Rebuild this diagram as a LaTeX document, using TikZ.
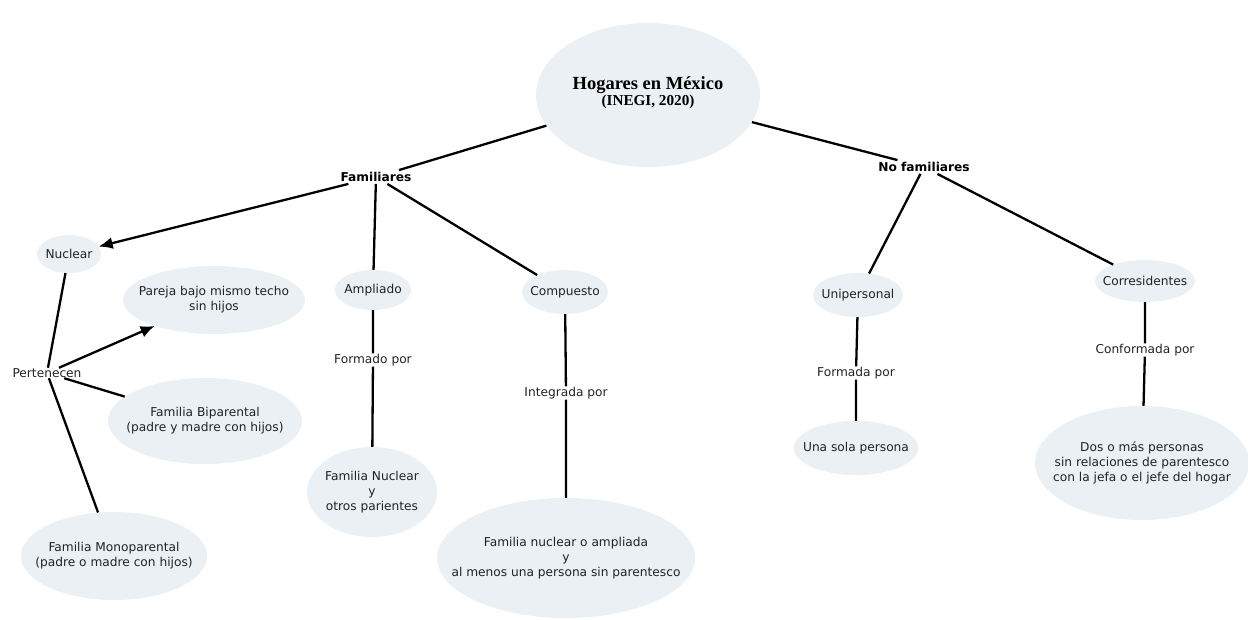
\documentclass[tikz,border=0pt]{standalone}
\usepackage{fontspec}
\setmainfont{DejaVu Sans}
\newfontfamily\tnr{Liberation Serif}
\usetikzlibrary{shapes.geometric,arrows.meta}
\definecolor{bubfill}{HTML}{EAF0F3}
\definecolor{txt}{HTML}{222222}
\tikzset{
  E/.style 2 args={ellipse, fill=bubfill, draw=none, inner sep=0pt,
    minimum width=#1pt, minimum height=#2pt},
  lt/.style={align=center, text=txt, inner sep=0pt,
    font=\fontsize{12.2}{15}\selectfont},
  lbl/.style={inner sep=0.5pt, text=txt, font=\fontsize{12.2}{15}\selectfont},
  hd/.style={inner sep=2pt, text=black, font=\bfseries\fontsize{12.2}{15}\selectfont},
  con/.style={line width=2.3pt, black},
  arr/.style={con, -{Latex[length=14pt,width=12pt]}}
}
\begin{document}
\begin{tikzpicture}[x=1pt,y=-1pt]
\useasboundingbox (0,0) rectangle (1248,619);

% ellipses
\node[E={224}{144}, label={[align=center, inner sep=0pt, yshift=2pt]center:{\tnr\bfseries\fontsize{18.5}{19}\selectfont Hogares en México\\[0pt]\tnr\bfseries\fontsize{15.2}{15}\selectfont (INEGI, 2020)}}] (tit) at (648,95) {};
\node[E={64}{38}, label={[lt]center:Nuclear}] (nuc) at (69,254) {};
\node[E={182}{68}, label={[lt]center:{Pareja bajo mismo techo\\sin hijos}}] (par) at (214,300) {};
\node[E={194}{86}, label={[lt]center:{Familia Biparental\\(padre y madre con hijos)}}] (bip) at (205,421) {};
\node[E={186}{88}, label={[lt]center:{Familia Monoparental\\(padre o madre con hijos)}}] (mono) at (114,556) {};
\node[E={76}{40}, label={[lt]center:Ampliado}] (amp) at (373,290) {};
\node[E={130}{90}, label={[lt]center:{Familia Nuclear\\y\\otros parientes}}] (fnuc) at (372,492) {};
\node[E={86}{44}, label={[lt]center:Compuesto}] (comp) at (565,292) {};
\node[E={258}{120}, label={[lt]center:{Familia nuclear o ampliada\\y\\al menos una persona sin parentesco}}] (fna) at (566,558) {};
\node[E={90}{44}, label={[lt]center:Unipersonal}] (uni) at (858,295) {};
\node[E={124}{54}, label={[lt]center:Una sola persona}] (una) at (856,448) {};
\node[E={100}{42}, label={[lt]center:Corresidentes}] (cor) at (1145,281) {};
\node[E={214}{114}, label={[lt]center:{Dos o más personas\\sin relaciones de parentesco\\con la jefa o el jefe del hogar}}] (dos) at (1142,463) {};

% text-only nodes
\node[hd] (fam) at (376,177) {Familiares};
\node[hd] (nofam) at (924,167) {No familiares};
\node[lbl] (pert) at (47,373) {Pertenecen};
\node[lbl] (fp) at (373,360) {Formado por};
\node[lbl] (ip) at (566,393) {Integrada por};
\node[lbl] (fpa) at (856,373) {Formada por};
\node[lbl] (cpor) at (1145,350) {Conformada por};

% connectors
\draw[con] (tit) -- (fam);
\draw[con] (tit) -- (nofam);
\draw[arr] (fam) -- (nuc);
\draw[con] (fam) -- (amp);
\draw[con] (fam) -- (comp);
\draw[con] (nuc) -- (pert);
\draw[arr] (pert) -- (par);
\draw[con] (pert) -- (bip);
\draw[con] (pert) -- (mono);
\draw[con] (amp) -- (fp) -- (fnuc);
\draw[con] (comp) -- (ip) -- (fna);
\draw[con] (nofam) -- (uni);
\draw[con] (nofam) -- (cor);
\draw[con] (uni) -- (fpa) -- (una);
\draw[con] (cor) -- (cpor) -- (dos);
\end{tikzpicture}
\end{document}
